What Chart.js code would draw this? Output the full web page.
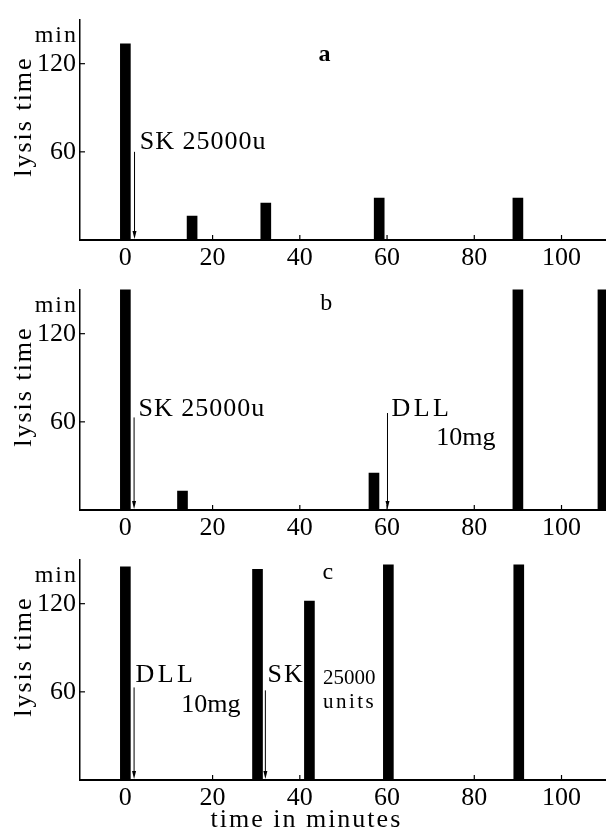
<!DOCTYPE html>
<html>
<head>
<meta charset="utf-8">
<script src="https://cdn.jsdelivr.net/npm/chart.js@4/dist/chart.umd.min.js"></script>
<style>
  body { margin: 0; background: #fff; }
  .panel { position: absolute; left: 0; }
</style>
</head>
<body>
<div class="panel" style="top:0"><canvas id="ca" width="606" height="270"></canvas></div>
<div class="panel" style="top:270px"><canvas id="cb" width="606" height="270"></canvas></div>
<div class="panel" style="top:540px"><canvas id="cc" width="606" height="293"></canvas></div>
<script>
// axis ticks
const xTicks = [0, 20, 40, 60, 80, 100]
const yTicks = [60, 120]
const xMin = -10.4
const xMax = 110.2
const yMax = 150

// panel a: SK only
const timesA = [0, 15.3, 32.2, 58.2, 90]
const lysisA = [133.5, 16.2, 25.2, 28.5, 28.5]

// panel b: SK, then DLL at 60 min (tall bars run off the top)
const timesB = [0, 13.1, 57, 90, 109.5]
const lysisB = [160, 12.8, 25.2, 160, 160]

// panel c: DLL first, then SK at 32 min
const timesC = [0, 30.3, 42.2, 60.3, 90.2]
const lysisC = [145, 143.4, 121.8, 146.5, 146.5]

const FONT = '"Liberation Serif", "Times New Roman", serif'
Chart.defaults.color = '#000'
Chart.defaults.font.family = FONT

const marks = {
  id: 'marks',
  afterDraw(chart, args, opts) {
    const { ctx, chartArea: area, scales: { x, y } } = chart
    ctx.save()
    ctx.strokeStyle = '#000'
    ctx.fillStyle = '#000'
    ctx.lineWidth = 1.2
    // short inner tick marks
    xTicks.forEach(v => {
      const px = x.getPixelForValue(v)
      ctx.beginPath(); ctx.moveTo(px, area.bottom); ctx.lineTo(px, area.bottom - 5); ctx.stroke()
    })
    yTicks.forEach(v => {
      const py = y.getPixelForValue(v)
      ctx.beginPath(); ctx.moveTo(area.left, py); ctx.lineTo(area.left + 5, py); ctx.stroke()
    })
    // injection arrows
    ctx.lineWidth = 1
    ;(opts.arrows || []).forEach(a => {
      const px = x.getPixelForValue(a.x)
      const top = y.getPixelForValue(a.from)
      const bot = area.bottom - 1
      ctx.beginPath(); ctx.moveTo(px, top); ctx.lineTo(px, bot - 6); ctx.stroke()
      ctx.beginPath(); ctx.moveTo(px - 2, bot - 8); ctx.lineTo(px + 2, bot - 8); ctx.lineTo(px, bot); ctx.closePath(); ctx.fill()
    })
    // annotations
    ctx.textBaseline = 'alphabetic'
    ;(opts.texts || []).forEach(t => {
      ctx.font = (t.bold ? 'bold ' : '') + (t.size || 26) + 'px ' + FONT
      ctx.letterSpacing = (t.spacing || 0) + 'px'
      ctx.textAlign = 'left'
      ctx.fillText(t.text, x.getPixelForValue(t.x), y.getPixelForValue(t.y))
    })
    // unit label above the y ticks
    ctx.font = '24px ' + FONT
    ctx.letterSpacing = '2px'
    ctx.textAlign = 'right'
    ctx.textBaseline = 'middle'
    ctx.fillText('min', area.left - 2, y.getPixelForValue(139))
    // y title
    ctx.font = '26px ' + FONT
    ctx.textAlign = 'center'
    ctx.save()
    ctx.translate(24, y.getPixelForValue(84))
    ctx.rotate(-Math.PI / 2)
    ctx.fillText('lysis time', 0, 0)
    ctx.restore()
    // x title on the bottom panel
    if (opts.xTitle) {
      ctx.font = '26px ' + FONT
      ctx.letterSpacing = '2px'
      ctx.fillText(opts.xTitle, x.getPixelForValue(41.5), area.bottom + 40)
    }
    ctx.restore()
  }
}

function makeChart(id, times, lysis, padTop, xAxisH, notes) {
  return new Chart(document.getElementById(id), {
    type: 'bar',
    data: {
      datasets: [{
        data: times.map((t, i) => ({ x: t, y: lysis[i] })),
        backgroundColor: '#000',
        barThickness: 10
      }]
    },
    options: {
      responsive: false,
      animation: false,
      layout: { padding: { top: padTop, left: 0, right: 0, bottom: 0 } },
      plugins: { legend: { display: false }, tooltip: { enabled: false }, marks: notes },
      scales: {
        x: {
          type: 'linear', min: xMin, max: xMax, offset: false,
          afterBuildTicks: axis => { axis.ticks = xTicks.map(v => ({ value: v })) },
          afterFit: axis => { axis.height = xAxisH },
          grid: { display: false, drawTicks: false },
          border: { color: '#000', width: 2 },
          ticks: { font: { size: 26 }, padding: 3, maxRotation: 0 }
        },
        y: {
          min: 0, max: yMax,
          afterBuildTicks: axis => { axis.ticks = yTicks.map(v => ({ value: v })) },
          afterFit: axis => { axis.width = 80 },
          grid: { display: false, drawTicks: false },
          border: { color: '#000', width: 1.5 },
          ticks: { font: { size: 26 }, padding: 4 }
        }
      }
    },
    plugins: [marks]
  })
}

makeChart('ca', timesA, lysisA, 17, 30, {
  arrows: [{ x: 2.1, from: 60 }],
  texts: [
    { text: 'SK 25000u', x: 3.3, y: 62, spacing: 1 },
    { text: 'a', x: 44.3, y: 122, size: 24, bold: true }
  ]
})

makeChart('cb', timesB, lysisB, 15, 30, {
  arrows: [{ x: 2.0, from: 63 }, { x: 60.1, from: 66 }],
  texts: [
    { text: 'SK 25000u', x: 3.0, y: 64, spacing: 1 },
    { text: 'DLL', x: 61.0, y: 64, spacing: 3.5 },
    { text: '10mg', x: 71.3, y: 44.5 },
    { text: 'b', x: 44.7, y: 136, size: 24 }
  ]
})

makeChart('cc', timesC, lysisC, 15, 53, {
  arrows: [{ x: 2.0, from: 63 }, { x: 32.1, from: 61 }],
  texts: [
    { text: 'DLL', x: 2.3, y: 67, spacing: 3.5 },
    { text: '10mg', x: 12.8, y: 46 },
    { text: 'SK', x: 32.6, y: 66.5, spacing: 2 },
    { text: '25000', x: 45.3, y: 65.5, size: 21 },
    { text: 'units', x: 45.3, y: 48.7, size: 21, spacing: 2.5 },
    { text: 'c', x: 45.2, y: 137, size: 24 }
  ],
  xTitle: 'time in minutes'
})
</script>
</body>
</html>
